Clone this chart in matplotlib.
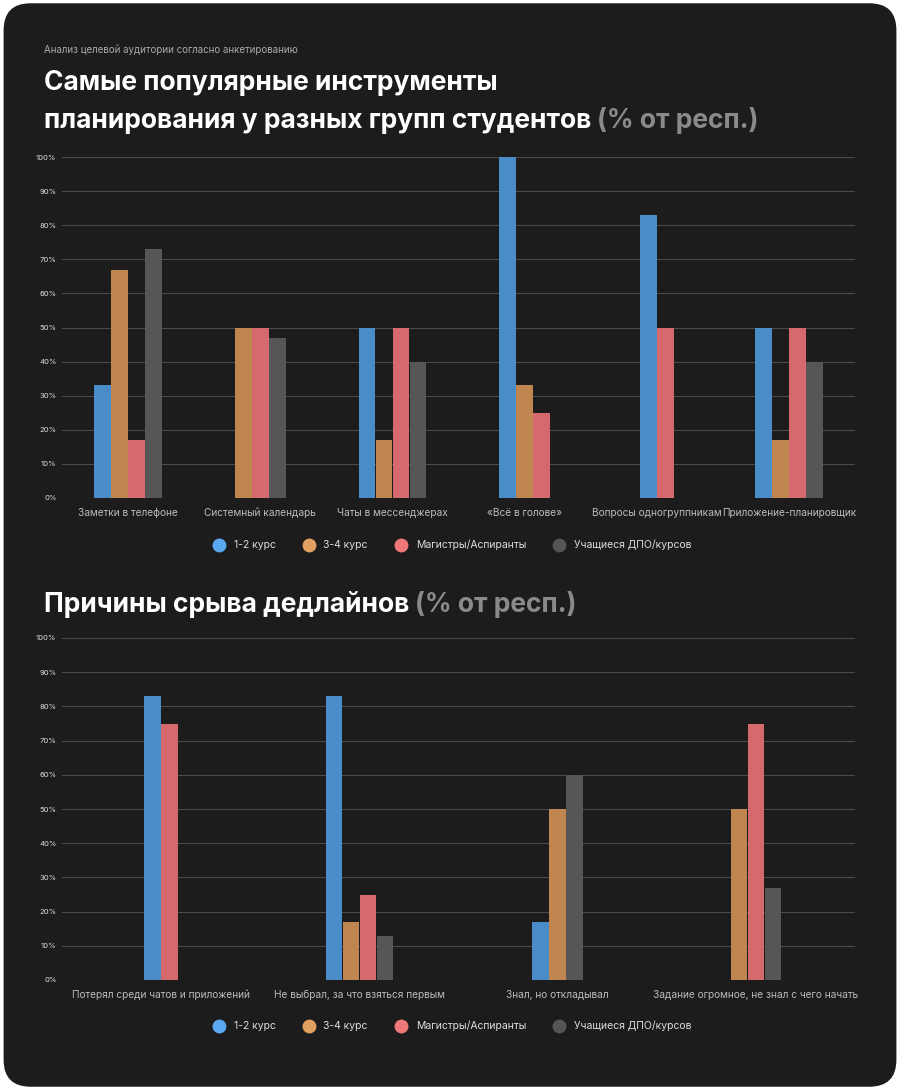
import matplotlib.pyplot as plt
from matplotlib.patches import FancyBboxPatch
import numpy as np

plt.rcParams['font.family'] = ['Inter', 'DejaVu Sans']

series = ['1-2 курс', '3-4 курс', 'Магистры/Аспиранты', 'Учащиеся ДПО/курсов']
bar_colors = ['#4a8cc8', '#c08650', '#d46a6e', '#565656']
dot_colors = ['#5aa8f0', '#e0a060', '#f07878', '#555555']

tools_cats = ['Заметки в телефоне', 'Системный календарь', 'Чаты в мессенджерах',
              '«Всё в голове»', 'Вопросы одногруппникам', 'Приложение-планировщик']
tools_vals = [
    [33, 0, 50, 100, 83, 50],
    [67, 50, 17, 33, 0, 17],
    [17, 50, 50, 25, 50, 50],
    [73, 47, 40, 0, 0, 40],
]

reasons_cats = ['Потерял среди чатов и приложений', 'Не выбрал, за что взяться первым',
                'Знал, но откладывал', 'Задание огромное, не знал с чего начать']
reasons_vals = [
    [83, 83, 17, 0],
    [0, 17, 50, 50],
    [75, 25, 0, 75],
    [0, 13, 60, 27],
]

W, H = 900, 1090
fig = plt.figure(figsize=(9, 10.9), dpi=100, facecolor='white')
bg = FancyBboxPatch((0.004, 0.003), 0.992, 0.994, boxstyle='round,pad=0,rounding_size=0.03',
                    transform=fig.transFigure, facecolor='#1c1c1c', edgecolor='none',
                    mutation_aspect=W / H, zorder=-10)
fig.patches.append(bg)


def px(x0, y0, x1, y1):
    return [x0 / W, 1 - y1 / H, (x1 - x0) / W, (y1 - y0) / H]


def draw(ax, cats, vals, bar_px):
    ax.set_facecolor('none')
    n = len(cats)
    ax.set_xlim(-0.5, n - 0.5)
    ax.set_ylim(0, 100)
    axw = ax.get_position().width * W
    bw = bar_px / (axw / n)
    for i in range(n):
        present = [s for s in range(4) if vals[s][i] > 0]
        k = len(present)
        for j, s in enumerate(present):
            x = i + (j - (k - 1) / 2) * bw
            ax.bar(x, vals[s][i], width=bw * 0.98, color=bar_colors[s], zorder=3)
    ax.set_yticks(range(0, 101, 10))
    ax.set_yticklabels([f'{v}%' for v in range(0, 101, 10)], color='#dddddd', fontsize=5.5)
    ax.grid(axis='y', color='#4a4a4a', linewidth=0.8, zorder=0)
    ax.set_xticks(range(n))
    ax.set_xticklabels(cats, color='#bbbbbb', fontsize=7.3)
    ax.tick_params(length=0, pad=7)
    ax.tick_params(axis='y', pad=4)
    for sp in ax.spines.values():
        sp.set_visible(False)


def legend(y_px):
    handles = [plt.Line2D([], [], marker='o', linestyle='none', markersize=10,
                          markerfacecolor=c, markeredgecolor='none') for c in dot_colors]
    fig.legend(handles, series, loc='center', bbox_to_anchor=(0.5, 1 - y_px / H), ncol=4,
               frameon=False, labelcolor='#dddddd', fontsize=7.5, handletextpad=0.4,
               columnspacing=2.2)


def title(y_px, main, extra):
    t = fig.text(44 / W, 1 - y_px / H, main, color='white', fontsize=19, fontweight='bold',
                 va='baseline')
    fig.canvas.draw()
    bb = t.get_window_extent()
    fig.text(bb.x1 / W + 6 / W, 1 - y_px / H, extra, color='#8a8a8a', fontsize=19,
             fontweight='bold', va='baseline')


fig.text(44 / W, 1 - 50 / H, 'Анализ целевой аудитории согласно анкетированию',
         color='#aaaaaa', fontsize=7, va='center')
fig.text(44 / W, 1 - 90 / H, 'Самые популярные инструменты', color='white', fontsize=19,
         fontweight='bold', va='baseline')
title(128, 'планирования у разных групп студентов', '(% от респ.)')
title(612, 'Причины срыва дедлайнов', '(% от респ.)')

ax1 = fig.add_axes(px(62, 157, 855, 498))
draw(ax1, tools_cats, tools_vals, 17)
legend(545)

ax2 = fig.add_axes(px(62, 638, 855, 980))
draw(ax2, reasons_cats, reasons_vals, 17)
legend(1026)

fig.savefig('out.png', dpi=100, facecolor='white')
